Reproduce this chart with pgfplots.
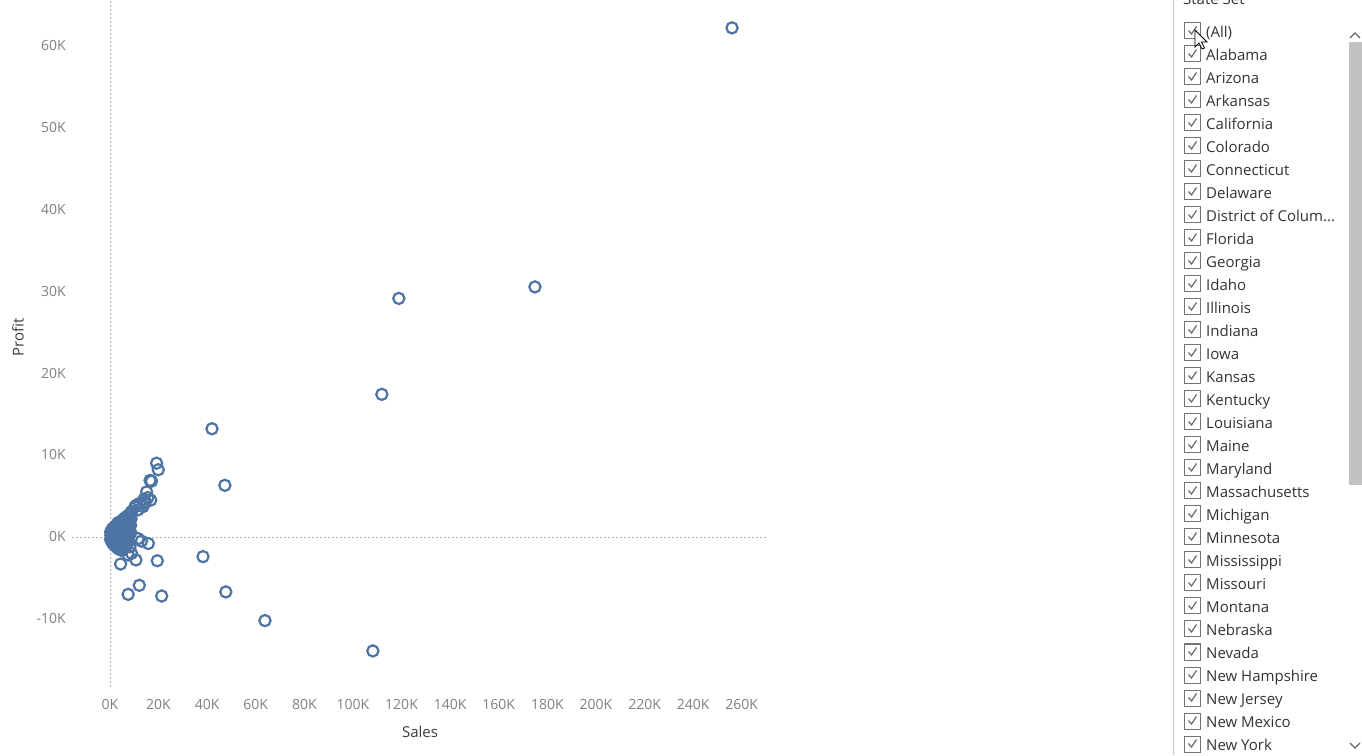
\documentclass[border=0pt]{standalone}
\usepackage{pgfplots}
\pgfplotsset{compat=1.18}
\usepackage{fontspec}
\setmainfont{Open Sans}
\definecolor{mk}{RGB}{78,116,163}
\definecolor{tk}{RGB}{130,128,125}
\definecolor{ttl}{RGB}{60,60,60}
\definecolor{lst}{RGB}{51,51,51}
\newcommand\threedots{...}
\begin{document}
\begin{tikzpicture}[x=1pt,y=1pt]
\path[use as bounding box] (0,0) rectangle (1362,755);
\clip (0,0) rectangle (1362,755);
\fill[white] (0,0) rectangle (1362,755);
\begin{axis}[at={(72pt,68pt)}, anchor=south west, scale only axis,
  width=696pt, height=687pt,
  xmin=-15.6, xmax=270.8, ymin=-18.3, ymax=65.5,
  axis line style={draw=none}, tick style={draw=none},
  xtick={0,20,...,260},
  xticklabels={0K,20K,40K,60K,80K,100K,120K,140K,160K,180K,200K,220K,240K,260K},
  ytick={-10,0,10,20,30,40,50,60},
  yticklabels={-10K,0K,10K,20K,30K,40K,50K,60K},
  /pgf/number format/assume math mode=true,
  ticklabel style={font=\fontsize{14}{16}\selectfont, text=tk, inner sep=0pt},
  xticklabel style={anchor=base, yshift=-22pt},
  yticklabel style={anchor=east, xshift=-6pt},
  clip=false]
\addplot[forget plot, color=black!30, line width=0.8pt, dash pattern=on 2pt off 2pt] coordinates {(0,-18.3) (0,65.5)};
\addplot[forget plot, color=black!30, line width=0.8pt, dash pattern=on 2pt off 2pt] coordinates {(-15.4,0) (270.8,0)};
\addplot[only marks, mark=o, mark size=5.6pt, color=mk, mark options={line width=2.2pt}] table {
x y
256.0 62.1
174.9 30.5
118.9 29.1
111.9 17.4
42.0 13.2
47.3 6.3
38.3 -2.4
47.7 -6.7
63.8 -10.2
108.2 -13.9
19.2 9.0
19.9 8.2
16.5 6.9
17.1 6.8
15.1 5.5
15.6 4.8
14.0 4.6
14.6 4.3
16.8 4.5
14.2 4.1
12.3 4.1
13.6 3.7
10.3 3.7
11.0 3.9
11.5 3.3
8.9 3.1
8.9 2.9
11.6 -0.2
13.0 -0.5
15.8 -0.8
8.2 -1.2
7.5 -2.2
10.7 -2.8
4.4 -3.3
19.5 -2.9
12.1 -5.9
7.5 -7.0
21.3 -7.2
5.3 -1.6
8.9 -2.0
0.3 -0.3
0.4 0.2
0.3 0.6
0.8 -0.6
0.9 -0.1
0.7 0.4
0.8 0.9
1.5 -0.9
1.4 -0.4
1.6 0.1
1.5 0.6
1.4 1.1
2.2 -1.1
2.3 -0.6
2.1 -0.1
2.2 0.4
2.3 0.9
2.2 1.3
3.0 -1.3
3.1 -0.8
2.9 -0.3
3.0 0.2
3.1 0.7
2.9 1.2
3.0 1.6
3.8 -1.5
3.7 -1.0
3.9 -0.5
3.8 0.0
3.7 0.5
3.9 1.0
3.8 1.5
3.7 1.8
4.6 -1.6
4.5 -1.1
4.7 -0.6
4.6 -0.1
4.5 0.4
4.7 0.9
4.6 1.4
4.5 1.9
5.4 -1.4
5.3 -0.9
5.5 -0.4
5.4 0.1
5.3 0.6
5.5 1.1
5.4 1.6
5.3 2.1
6.2 -1.2
6.1 -0.7
6.3 -0.2
6.2 0.3
6.1 0.8
6.3 1.3
6.2 1.8
6.1 2.3
7.0 -0.9
6.9 -0.4
7.1 0.1
7.0 0.6
6.9 1.1
7.1 1.6
7.0 2.1
6.9 2.5
7.8 -0.5
7.7 0.2
7.9 0.9
7.8 1.6
7.7 2.3
7.9 2.7
8.6 0.5
8.5 1.4
8.7 2.2
8.6 2.9
};
\end{axis}
% axis titles
\node[font=\fontsize{15}{18}\selectfont, text=ttl] at (420,23) {Sales};
\node[font=\fontsize{15}{18}\selectfont, text=ttl, rotate=90] at (18,418) {Profit};
% filter panel
\draw[color=black!22, line width=1pt] (1173.5,0) -- (1173.5,755);
\node[anchor=base west, font=\fontsize{15}{18}\selectfont, text=lst, inner sep=0pt] at (1183,750) {State Set};
\fill[black!24] (1349,270) rectangle (1362,713);
\draw[black!60, line width=1.2pt] (1350,717) -- (1355,722) -- (1360,717);
\draw[black!60, line width=1.2pt] (1350,12) -- (1355,7) -- (1360,12);
\foreach \n [count=\i from 0] in {(All),Alabama,Arizona,Arkansas,California,Colorado,Connecticut,Delaware,{District of Colum\threedots},Florida,Georgia,Idaho,Illinois,Indiana,Iowa,Kansas,Kentucky,Louisiana,Maine,Maryland,Massachusetts,Michigan,Minnesota,Mississippi,Missouri,Montana,Nebraska,Nevada,New Hampshire,New Jersey,New Mexico,New York}{
  \pgfmathsetmacro\yy{755-31-23*\i}
  \draw[black!55, line width=1pt] (1184.5,\yy-8) rectangle (1200.5,\yy+8);
  \draw[black!60, line width=1.2pt] (1188.5,\yy+0.5) -- (1191.5,\yy-3) -- (1196.5,\yy+4.5);
  \node[anchor=base west, font=\fontsize{15}{18}\selectfont, text=lst, inner sep=0pt] at (1206,\yy-6.5) {\n};
}
% cursor
\filldraw[fill=white, draw=black, line width=0.8pt] (1195,725) -- (1195,708) -- (1199,712) -- (1202,706) -- (1204.5,707) -- (1201.5,713) -- (1207,713) -- cycle;
\end{tikzpicture}
\end{document}
